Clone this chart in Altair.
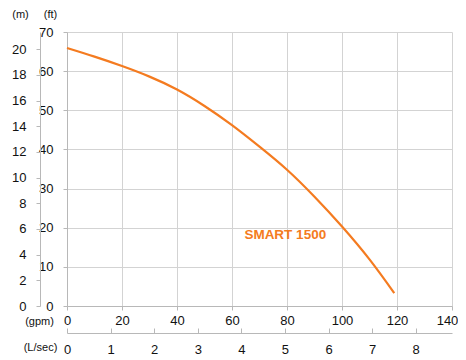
import altair as alt
import pandas as pd

# Pump curve (flow in gpm, head in ft)
flow_gpm = [0, 10, 20, 30, 40, 50, 60, 70, 80, 90, 100, 110, 119]
head_ft = [65.9, 63.7, 61.3, 58.6, 55.3, 51.1, 46.2, 40.7, 34.8, 27.9, 20.3, 11.9, 3.3]

gpm_ticks = [0, 20, 40, 60, 80, 100, 120, 140]
ft_ticks = [0, 10, 20, 30, 40, 50, 60, 70]
m_ticks = [0, 2, 4, 6, 8, 10, 12, 14, 16, 18, 20]
ls_ticks = [0, 1, 2, 3, 4, 5, 6, 7, 8]

label_text = ["SMART 1500"]
label_gpm = [64.5]
label_ft = [18.1]

FT_PER_M = 3.28084
GPM_PER_LS = 15.8503
GPM_MAX = 140
FT_MAX = 70

ORANGE = "#F47B20"
GRID = "#d3d3d3"
AXISC = "#b8b8b8"
FONT = "Liberation Sans"

curve = pd.DataFrame({"gpm": flow_gpm, "ft": head_ft})
lab = pd.DataFrame({"t": label_text, "gpm": label_gpm, "ft": label_ft})
mdf = pd.DataFrame({"m": m_ticks})
lsdf = pd.DataFrame({"ls": ls_ticks})

common_axis = dict(
    labelFont=FONT, labelFontSize=13, labelColor="#111", labelFlush=False,
    titleFont=FONT, titleFontSize=11, titleFontWeight="normal", titleColor="#111",
    titleAngle=0, titleAlign="center", titleBaseline="middle",
    domainColor=AXISC, tickColor=AXISC, tickSize=4,
)

xs = alt.Scale(domain=[0, GPM_MAX], nice=False, zero=True)
ys = alt.Scale(domain=[0, FT_MAX], nice=False, zero=True)

line = alt.Chart(curve).mark_line(color=ORANGE, strokeWidth=2.2, interpolate="natural").encode(
    x=alt.X("gpm:Q", scale=xs, axis=alt.Axis(
        values=gpm_ticks, grid=True, gridColor=GRID, orient="bottom",
        labelOffset={"condition": {"test": "datum.value == 140", "value": -5}, "value": 0},
        title="(gpm)", titleX=-28, titleY=15, labelPadding=4, **common_axis)),
    y=alt.Y("ft:Q", scale=ys, axis=alt.Axis(
        values=ft_ticks, grid=True, gridColor=GRID, orient="left",
        title="(ft)", titleX=-17, titleY=-18, labelPadding=10, **common_axis)),
)

text = alt.Chart(lab).mark_text(
    color=ORANGE, font=FONT, fontSize=13.5, fontWeight="bold", align="left", baseline="middle"
).encode(
    x=alt.X("gpm:Q", scale=xs, axis=None),
    y=alt.Y("ft:Q", scale=ys, axis=None),
    text="t:N",
)

m_layer = alt.Chart(mdf).mark_point(opacity=0).encode(
    y=alt.Y("m:Q", scale=alt.Scale(domain=[0, FT_MAX / FT_PER_M], nice=False, zero=True),
            axis=alt.Axis(values=m_ticks, grid=False, orient="left", offset=27,
                          title="(m)", titleX=-20, titleY=-18, labelPadding=10, **common_axis)),
)

ls_scale = alt.Scale(domain=[0, GPM_MAX / GPM_PER_LS], nice=False, zero=True)

ls_top = alt.Chart(lsdf).mark_point(opacity=0).encode(
    x=alt.X("ls:Q", scale=ls_scale,
            axis=alt.Axis(values=ls_ticks, grid=False, orient="top", offset=-301,
                          labels=False, title=None, domainColor=AXISC, tickColor=AXISC, tickSize=5)),
)

ls_bottom = alt.Chart(lsdf).mark_point(opacity=0).encode(
    x=alt.X("ls:Q", scale=ls_scale,
            axis=alt.Axis(values=ls_ticks, grid=False, orient="bottom", offset=27,
                          domain=False, ticks=False,
                          title="(L/sec)", titleX=-27, titleY=14,
                          **{**common_axis, "tickSize": 0}, labelPadding=10)),
)

chart = alt.layer(line, text, m_layer, ls_top, ls_bottom).resolve_scale(
    x="independent", y="independent"
).resolve_axis(x="independent", y="independent").properties(
    width=385, height=274,
    autosize=alt.AutoSizeParams(type="none"),
    padding={"left": 59, "top": 24, "right": 6, "bottom": 52},
    background="white",
).configure_view(strokeWidth=0)

chart.save("out.html", embed_options={"renderer": "svg", "actions": False})
